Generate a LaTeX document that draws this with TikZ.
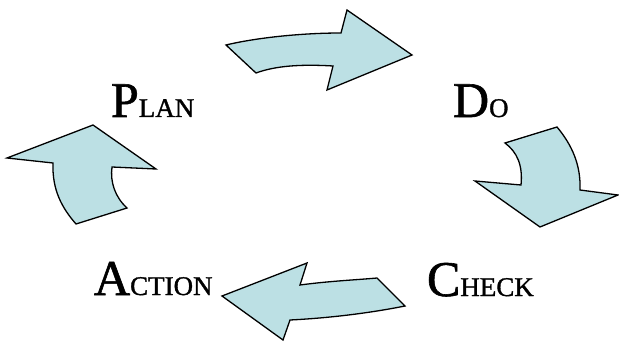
\documentclass[tikz,border=0pt]{standalone}
\usepackage{fontspec}
\setmainfont{Liberation Serif}[FakeBold=1.2]
\definecolor{cyclefill}{RGB}{188,224,228}
% capital initial followed by small-cap style capitals
\newcommand{\pdcaps}[2]{{\fontsize{50}{50}\selectfont #1}{\fontsize{27}{27}\selectfont #2}}
\begin{document}
\begin{tikzpicture}[x=1pt,y=-1pt,
  cyclearrow/.style={draw=black,fill=cyclefill,line width=1.3pt,line join=miter},
  stagelabel/.style={anchor=base west,inner sep=0pt,outer sep=0pt}]
\useasboundingbox (0,0) rectangle (619,342);

% Plan -> Do
\draw[cyclearrow] (226,45) .. controls (255,38) and (300,33) .. (341,33)
  -- (347,10) -- (412,55) -- (327,90) -- (333,66)
  .. controls (300,64) and (275,66) .. (256,73) -- cycle;

% Do -> Check
\draw[cyclearrow] (505,143) -- (557,127)
  .. controls (572,145) and (581,165) .. (580,190)
  -- (618,195) -- (540,227) -- (475,181) -- (521,185)
  .. controls (523,165) and (517,152) .. (505,143) -- cycle;

% Check -> Action
\draw[cyclearrow] (377,278) -- (405,306)
  .. controls (370,313) and (330,318) .. (290,320)
  -- (283,340) -- (222,296) -- (307,263) -- (300,285)
  .. controls (330,281) and (355,280) .. (377,278) -- cycle;

% Action -> Plan
\draw[cyclearrow] (127,208) -- (76,224)
  .. controls (62,208) and (52,190) .. (53,163)
  -- (7,158) -- (93,125) -- (156,169) -- (112,167)
  .. controls (110,182) and (115,197) .. (127,208) -- cycle;

\node[stagelabel] (plan) at (111,117) {\pdcaps{P}{LAN}};
\node[stagelabel] (do) at (453,117) {\pdcaps{D}{O}};
\node[stagelabel] (check) at (427,296) {\pdcaps{C}{HECK}};
\node[stagelabel] (action) at (94,295) {\pdcaps{A}{CTION}};
\end{tikzpicture}
\end{document}
